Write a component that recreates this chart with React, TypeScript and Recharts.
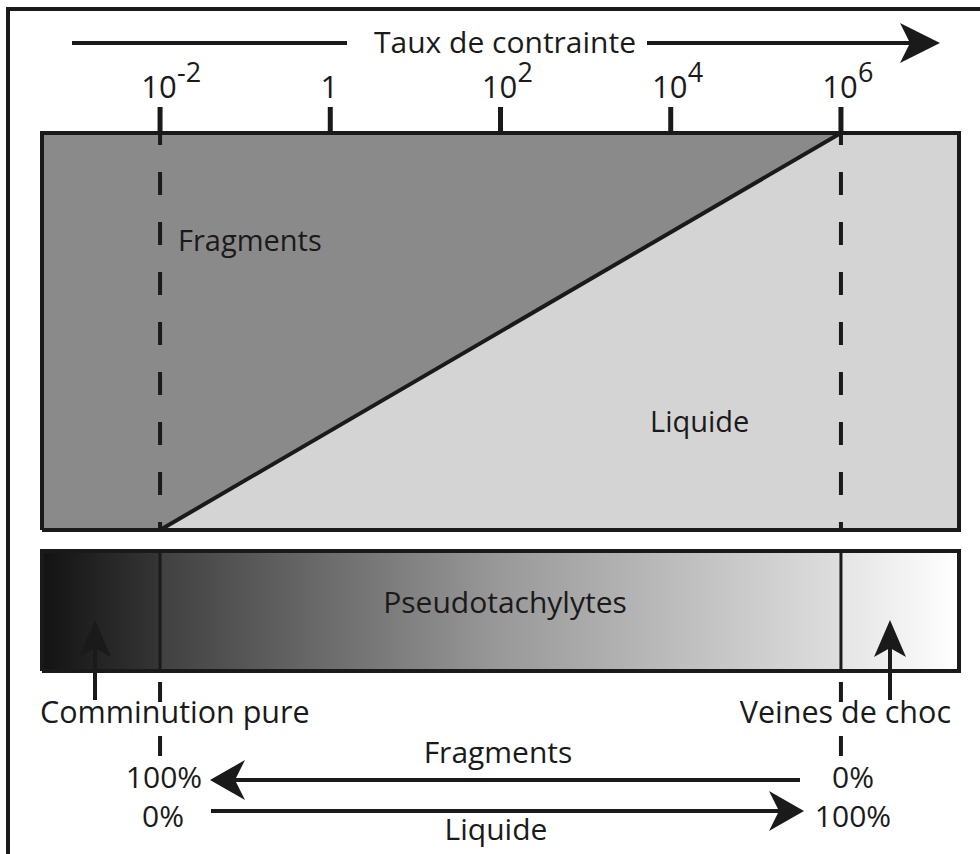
import React from 'react';
import { ComposedChart, XAxis, YAxis, Area, Line } from 'recharts';

// ---- data ----
const strainRateExp = [-2, 0, 2, 4, 6]; // log10 of strain rate tick values
const tickBase = ['10', '1', '10', '10', '10'];
const tickExp = ['-2', '', '2', '4', '6'];
const transitionExp = [-2, 6]; // comminution pure (10^-2) and veines de choc (10^6)
const liquidShare = [0, 1]; // liquid fraction at each transition (0% -> 100%)

// ---- layout ----
const W = 980;
const H = 854;
const X_MIN = -3.387;
const X_MAX = 7.387;
const BOX_TOP_PX = 133;
const BOX_BOTTOM_PX = 530;
const UNIT_PX = BOX_BOTTOM_PX - BOX_TOP_PX;
const Y_MIN = -(H - BOX_BOTTOM_PX) / UNIT_PX;
const yv = (py: number) => (BOX_BOTTOM_PX - py) / UNIT_PX;

const FONT = "'Open Sans', sans-serif";
const INK = '#1a1a1a';
const DARK = '#8a8a8a';
const LIGHT = '#d5d4d5';

const BAR_TOP = yv(551);
const BAR_BOT = yv(671);

// derived series
const lightBox = [
  { x: X_MIN, r: [0, 1] },
  { x: X_MAX, r: [0, 1] },
];
const fragmentsZone = [
  { x: X_MIN, r: [0, 1] },
  { x: transitionExp[0], r: [liquidShare[0], 1] },
  { x: transitionExp[1], r: [liquidShare[1], 1] },
];
const diagonal = transitionExp.map((x, i) => ({ x, y: liquidShare[i] }));
const boxBorder = [
  { x: X_MIN, y: 0 },
  { x: X_MIN, y: 1 },
  { x: X_MAX, y: 1 },
  { x: X_MAX, y: 0 },
  { x: X_MIN, y: 0 },
];
const barBorder = [
  { x: X_MIN, y: BAR_BOT },
  { x: X_MIN, y: BAR_TOP },
  { x: X_MAX, y: BAR_TOP },
  { x: X_MAX, y: BAR_BOT },
  { x: X_MIN, y: BAR_BOT },
];
const barA = [
  { x: X_MIN, r: [BAR_BOT, BAR_TOP] },
  { x: transitionExp[0], r: [BAR_BOT, BAR_TOP] },
];
const barB = [
  { x: transitionExp[0], r: [BAR_BOT, BAR_TOP] },
  { x: transitionExp[1], r: [BAR_BOT, BAR_TOP] },
];
const barC = [
  { x: transitionExp[1], r: [BAR_BOT, BAR_TOP] },
  { x: X_MAX, r: [BAR_BOT, BAR_TOP] },
];

const TickLabel = (props: any) => {
  const { x, y, payload } = props;
  const i = strainRateExp.indexOf(payload.value);
  const by = y - 7;
  return (
    <g>
      <text x={x - 1} y={by} textAnchor="middle" fontFamily={FONT} fontSize={31} fill={INK}>
        {tickBase[i]}
      </text>
      {tickExp[i] ? (
        <text x={x + 17} y={by - 16} textAnchor="start" fontFamily={FONT} fontSize={27} fill={INK}>
          {tickExp[i]}
        </text>
      ) : null}
    </g>
  );
};

const head = (tx: number, ty: number, dir: 'r' | 'l' | 'u', L: number, Wd: number, n: number) => {
  let pts: number[][];
  if (dir === 'r') pts = [[tx, ty], [tx - L, ty - Wd], [tx - L + n, ty], [tx - L, ty + Wd]];
  else if (dir === 'l') pts = [[tx, ty], [tx + L, ty - Wd], [tx + L - n, ty], [tx + L, ty + Wd]];
  else pts = [[tx, ty], [tx - Wd, ty + L], [tx, ty + L - n], [tx + Wd, ty + L]];
  return <polygon points={pts.map((p) => p.join(',')).join(' ')} fill={INK} />;
};

const T = (p: { x: number; y: number; a?: 'start' | 'middle' | 'end'; s?: number; children: React.ReactNode }) => (
  <text x={p.x} y={p.y} textAnchor={p.a || 'middle'} fontFamily={FONT} fontSize={p.s || 30} fill={INK}>
    {p.children}
  </text>
);

const Annotations = () => (
  <svg width={W} height={H} style={{ position: 'absolute', left: 0, top: 0, pointerEvents: 'none' }}>
    {/* frame */}
    <line x1={8} y1={9} x2={W} y2={9} stroke={INK} strokeWidth={4} />
    <line x1={8} y1={7} x2={8} y2={H} stroke={INK} strokeWidth={4} />
    {/* title arrow */}
    <line x1={72} y1={43} x2={347} y2={43} stroke={INK} strokeWidth={4} />
    <line x1={647} y1={43} x2={910} y2={43} stroke={INK} strokeWidth={4} />
    {head(940, 43, 'r', 40, 20, 10)}
    <T x={505} y={53}>Taux de contrainte</T>
    {/* box labels */}
    <T x={178} y={251} a="start" s={29}>Fragments</T>
    <T x={650} y={432} a="start" s={29}>Liquide</T>
    <T x={505} y={613}>Pseudotachylytes</T>
    {/* up arrows */}
    <line x1={95} y1={645} x2={95} y2={700} stroke={INK} strokeWidth={4} />
    {head(95, 620, 'u', 37, 16, 9)}
    <line x1={890} y1={645} x2={890} y2={700} stroke={INK} strokeWidth={4} />
    {head(890, 620, 'u', 37, 16, 9)}
    <T x={40} y={723} a="start" s={30.5}>Comminution pure</T>
    <T x={951} y={723} a="end" s={30.5}>Veines de choc</T>
    {/* bottom arrows */}
    <line x1={800} y1={780} x2={235} y2={780} stroke={INK} strokeWidth={4} />
    {head(210, 780, 'l', 35, 20, 10)}
    <line x1={211} y1={811} x2={780} y2={811} stroke={INK} strokeWidth={4} />
    {head(804, 811, 'r', 35, 20, 10)}
    <T x={498} y={763}>Fragments</T>
    <T x={496} y={840}>Liquide</T>
    <T x={164} y={788}>100%</T>
    <T x={853} y={788}>0%</T>
    <T x={163} y={827}>0%</T>
    <T x={853} y={827}>100%</T>
  </svg>
);

export default function App() {
  return (
    <div style={{ position: 'absolute', left: 0, top: 0, width: W, height: H, background: '#fff' }}>
      <ComposedChart width={W} height={H} data={lightBox} margin={{ top: 73, left: 42, right: 21, bottom: 0 }}>
        <defs>
          <linearGradient id="gA" x1="0" y1="0" x2="1" y2="0">
            <stop offset="0%" stopColor="#131313" />
            <stop offset="100%" stopColor="#353535" />
          </linearGradient>
          <linearGradient id="gB" x1="0" y1="0" x2="1" y2="0">
            <stop offset="0%" stopColor="#404040" />
            <stop offset="50%" stopColor="#999999" />
            <stop offset="100%" stopColor="#dedede" />
          </linearGradient>
          <linearGradient id="gC" x1="0" y1="0" x2="1" y2="0">
            <stop offset="0%" stopColor="#e4e4e4" />
            <stop offset="100%" stopColor="#ffffff" />
          </linearGradient>
        </defs>
        <XAxis
          type="number"
          dataKey="x"
          domain={[X_MIN, X_MAX]}
          ticks={strainRateExp}
          interval={0}
          orientation="top"
          height={60}
          tickSize={26}
          tickLine={{ stroke: INK, strokeWidth: 5 }}
          axisLine={false}
          tick={(p: any) => <TickLabel {...p} />}
        />
        <YAxis type="number" domain={[Y_MIN, 1]} hide width={0} />
        <Area data={lightBox} dataKey="r" type="linear" fill={LIGHT} fillOpacity={1} stroke="none" dot={false} activeDot={false} isAnimationActive={false} />
        <Area data={fragmentsZone} dataKey="r" type="linear" fill={DARK} fillOpacity={1} stroke="none" dot={false} activeDot={false} isAnimationActive={false} />
        <Area data={barA} dataKey="r" type="linear" fill="url(#gA)" fillOpacity={1} stroke="none" dot={false} activeDot={false} isAnimationActive={false} />
        <Area data={barB} dataKey="r" type="linear" fill="url(#gB)" fillOpacity={1} stroke="none" dot={false} activeDot={false} isAnimationActive={false} />
        <Area data={barC} dataKey="r" type="linear" fill="url(#gC)" fillOpacity={1} stroke="none" dot={false} activeDot={false} isAnimationActive={false} />
        {transitionExp.map((x) => (
          <Line
            key={'d' + x}
            data={[{ x, y: 1 }, { x, y: 0 }]}
            dataKey="y"
            type="linear"
            stroke={INK}
            strokeWidth={4}
            strokeDasharray="23 27"
            strokeDashoffset={11}
            dot={false}
            activeDot={false}
            isAnimationActive={false}
          />
        ))}
        {transitionExp.map((x) => (
          <Line
            key={'s' + x}
            data={[{ x, y: BAR_TOP }, { x, y: BAR_BOT }]}
            dataKey="y"
            type="linear"
            stroke={INK}
            strokeWidth={3}
            dot={false}
            activeDot={false}
            isAnimationActive={false}
          />
        ))}
        {transitionExp.map((x) => (
          <Line
            key={'b' + x}
            data={[{ x, y: yv(682) }, { x, y: yv(757) }]}
            dataKey="y"
            type="linear"
            stroke={INK}
            strokeWidth={4}
            strokeDasharray="20 34"
            dot={false}
            activeDot={false}
            isAnimationActive={false}
          />
        ))}
        <Line data={diagonal} dataKey="y" type="linear" stroke={INK} strokeWidth={4} dot={false} activeDot={false} isAnimationActive={false} />
        <Line data={boxBorder} dataKey="y" type="linear" stroke={INK} strokeWidth={4} strokeLinejoin="miter" dot={false} activeDot={false} isAnimationActive={false} />
        <Line data={barBorder} dataKey="y" type="linear" stroke={INK} strokeWidth={4} strokeLinejoin="miter" dot={false} activeDot={false} isAnimationActive={false} />
      </ComposedChart>
      <Annotations />
    </div>
  );
}
